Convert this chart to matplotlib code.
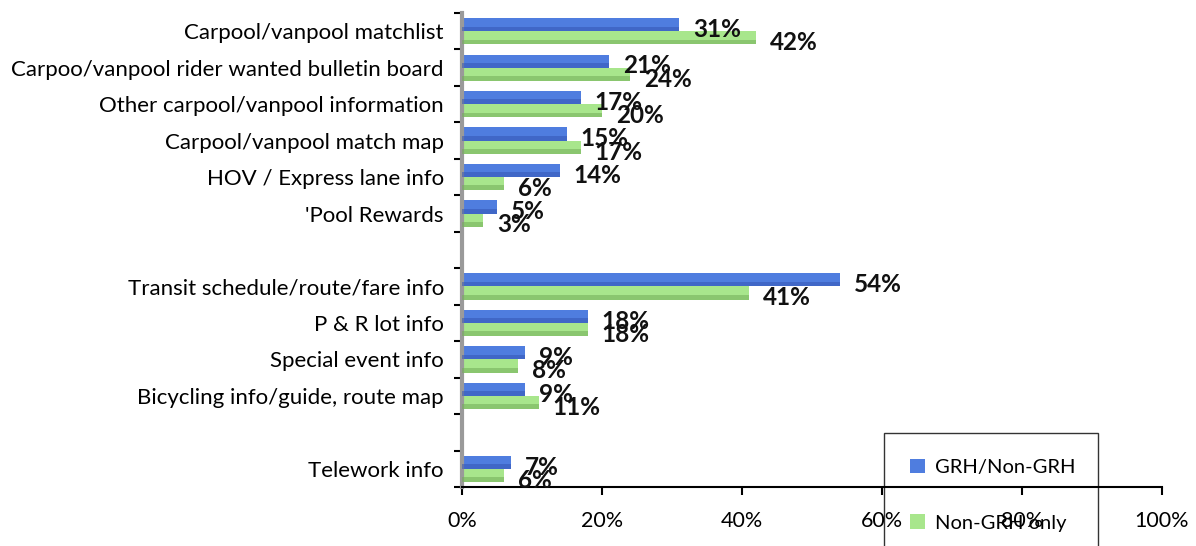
import matplotlib.pyplot as plt
import numpy as np
from matplotlib.patches import Patch

plt.rcParams['font.family'] = ['Lato', 'DejaVu Sans']

# survey items, blank strings are the gaps between groups
categories = [
    'Carpool/vanpool matchlist',
    'Carpoo/vanpool rider wanted bulletin board',
    'Other carpool/vanpool information',
    'Carpool/vanpool match map',
    'HOV / Express lane info',
    "'Pool Rewards",
    '',
    'Transit schedule/route/fare info',
    'P & R lot info',
    'Special event info',
    'Bicycling info/guide, route map',
    '',
    'Telework info',
]
grh_all = [31, 21, 17, 15, 14, 5, None, 54, 18, 9, 9, None, 7]
non_grh = [42, 24, 20, 17, 6, 3, None, 41, 18, 8, 11, None, 6]
series_names = ['GRH/Non-GRH', 'Non-GRH only']
xticks = [0, 20, 40, 60, 80, 100]

W, H = 1196, 546
fig = plt.figure(figsize=(W / 100, H / 100), dpi=100)
ax = fig.add_axes([462 / W, 1 - 487 / H, 700 / W, (487 - 13) / H])

y = np.arange(len(categories))
bh = 0.36
series = [
    (grh_all, -bh / 2, '#4f7ddf', '#3456b5'),
    (non_grh, bh / 2, '#a8e68c', '#72ad58'),
]
for vals, off, light, dark in series:
    for i, v in enumerate(vals):
        if v is None:
            continue
        yc = y[i] + off
        ax.barh(yc, v, height=bh, color=light, edgecolor='none', zorder=2)
        # darker lower edge gives the bevelled look
        ax.barh(yc + bh * 0.32, v, height=bh * 0.36, color=dark, alpha=0.55,
                edgecolor='none', zorder=3)
        ax.annotate(f'{v}%', (v, yc), xytext=(10, -3.5), textcoords='offset points',
                    ha='left', va='center', fontsize=17.5, fontweight='bold',
                    color='#111111', zorder=5)

ax.set_xlim(0, 100)
ax.set_ylim(len(categories) - 0.5, -0.5)
ax.set_xticks(xticks)
ax.set_xticklabels([f'{t}%' for t in xticks], fontsize=15.5)
ax.set_yticks(y)
ax.set_yticklabels(categories, fontsize=16)
ax.set_yticks(np.arange(len(categories) + 1) - 0.5, minor=True)
ax.tick_params(axis='y', which='major', length=0, pad=13)
ax.tick_params(axis='y', which='minor', length=6, width=1.5, color='black', direction='out')
ax.tick_params(axis='x', length=6, width=1.5, color='black', direction='out', pad=11)

for s in ['top', 'right']:
    ax.spines[s].set_visible(False)
ax.spines['bottom'].set_color('black')
ax.spines['bottom'].set_linewidth(1.5)
ax.spines['left'].set_color('#9a9a9a')
ax.spines['left'].set_linewidth(3)

handles = [Patch(facecolor='#4f7ddf'), Patch(facecolor='#a8e68c')]
fig.legend(handles, series_names, loc='upper left',
           bbox_to_anchor=(884 / W, 1 - 438 / H, 214 / W, 0.01), mode='expand',
           frameon=True, fancybox=False, edgecolor='black', facecolor='none',
           framealpha=None, fontsize=14.5, handlelength=0.75, handleheight=0.75,
           handletextpad=0.5, labelspacing=1.9, borderpad=1.3, borderaxespad=0)

fig.savefig('out.png', dpi=100)
